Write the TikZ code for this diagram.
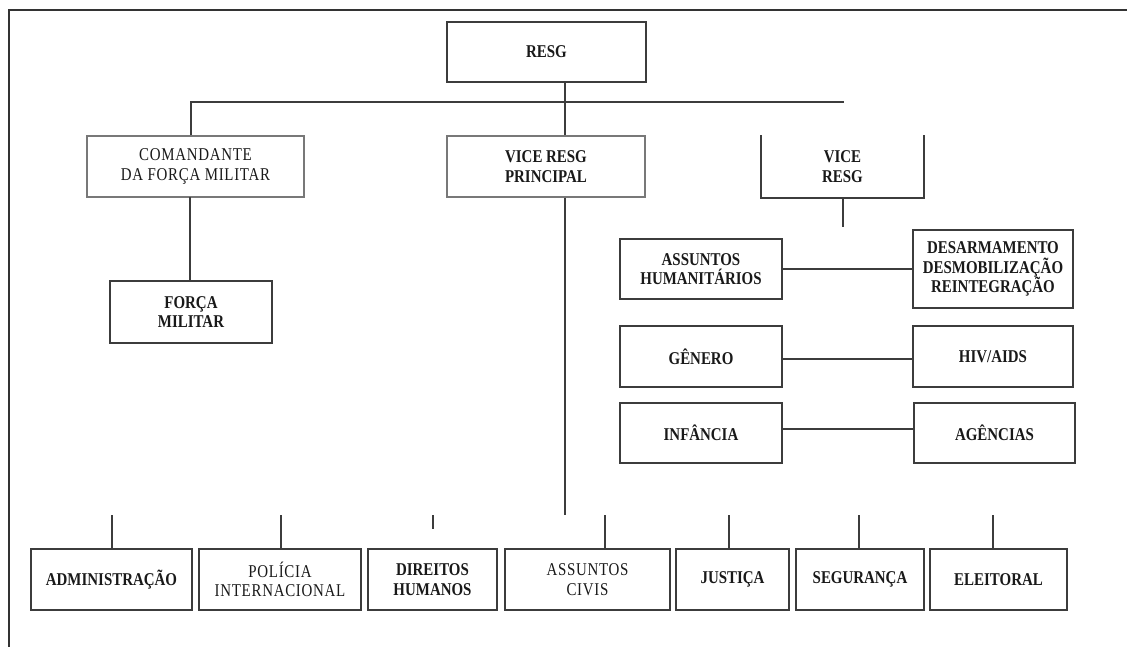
\documentclass[tikz,border=0pt]{standalone}
\usepackage{fontspec}
\setmainfont{Liberation Serif}[FakeStretch=0.83]
\usepackage{tikz}
\usetikzlibrary{positioning, calc}
\definecolor{Cln}{RGB}{60,60,60}
\definecolor{Clt}{RGB}{120,120,120}
\definecolor{Ctx}{RGB}{25,25,25}
\tikzset{
  bx/.style n args={2}{draw=Cln, line width=1.7pt, fill=white,
    minimum width=#1, minimum height=#2, inner sep=1pt,
    align=center, text=Ctx, font=\fontsize{18}{19.5}\selectfont\bfseries},
  bl/.style n args={2}{bx={#1}{#2}, draw=Clt, line width=1.2pt},
  rg/.style={font=\fontsize{18}{19.5}\selectfont\addfontfeature{LetterSpace=4}},
  ln/.style={draw=Cln, line width=1.5pt},
  frm/.style={draw=black!80, line width=1.5pt}
}
\begin{document}
\begin{tikzpicture}[x=1pt, y=-1pt]
\useasboundingbox (0,0) rectangle (1127,646);
\clip (0,0) rectangle (1127,646);
\draw[frm] (9,10) rectangle (1160,680);

% top level
\node[bx={199pt}{60pt}] (resg) at (546.5,52) {RESG};

\node[bl={217pt}{61pt}, rg] (cmd) at (195.5,166.5)
  {COMANDANTE\\DA FORÇA MILITAR};
\node[bl={198pt}{61pt}] (vpr) at (546,166.5) {VICE RESG\\PRINCIPAL};
\node[bx={161pt}{61pt}, draw=none] (vr) at (842.5,166.5) {VICE\\RESG};
\draw[ln] (vr.north west) -- (vr.south west) -- (vr.south east) -- (vr.north east);

\node[bx={162pt}{62pt}] (fm) at (191,312) {FORÇA\\MILITAR};

% right column
\node[bx={162pt}{60pt}] (hum) at (701,269) {ASSUNTOS\\HUMANITÁRIOS};
\node[bx={160pt}{78pt}] (ddr) at (993,269)
  {DESARMAMENTO\\DESMOBILIZAÇÃO\\REINTEGRAÇÃO};
\node[bx={162pt}{61pt}] (gen) at (701,356.5) {GÊNERO};
\node[bx={160pt}{61pt}] (hiv) at (993,356.5) {HIV/AIDS};
\node[bx={162pt}{60pt}] (inf) at (701,433) {INFÂNCIA};
\node[bx={161pt}{60pt}] (age) at (994.5,433) {AGÊNCIAS};

% bottom row
\node[bx={161pt}{61pt}] (adm) at (111.5,579.5) {ADMINISTRAÇÃO};
\node[bx={162pt}{61pt}, rg] (pol) at (280,579.5) {POLÍCIA\\INTERNACIONAL};
\node[bx={129pt}{61pt}] (dir) at (432.5,579.5) {DIREITOS\\HUMANOS};
\node[bx={165pt}{61pt}, rg] (civ) at (587.5,579.5) {ASSUNTOS\\CIVIS};
\node[bx={113pt}{61pt}] (jus) at (732.5,579.5) {JUSTIÇA};
\node[bx={128pt}{61pt}] (seg) at (860,579.5) {SEGURANÇA};
\node[bx={137pt}{61pt}] (ele) at (998.5,579.5) {ELEITORAL};

% bus lines
\coordinate (bus) at (565,102);
\coordinate (busL) at (191,102);
\coordinate (busR) at (844,102);
\coordinate (vend) at (565,515);
\coordinate (vrend) at (843,227);

\draw[ln] (bus |- resg.south) -- (bus |- vpr.north);
\draw[ln] (busL |- cmd.north) -- (busL) -- (busR);
\draw[ln] (190,197) -- (fm.north -| 190,0);
\draw[ln] (vend |- vpr.south) -- (vend);
\draw[ln] (vrend |- vr.south) -- (vrend);

\draw[ln] (hum.east) -- (hum.east -| ddr.west);
\draw[ln] (gen.east |- 0,359) -- (hiv.west |- 0,359);
\draw[ln] (inf.east |- 0,429) -- (age.west |- 0,429);

% stubs above bottom row
\foreach \nm/\xx in {adm/112, pol/281, civ/605, jus/729, seg/859, ele/993}{
  \coordinate (t\nm) at (\xx,515);
  \draw[ln] (t\nm) -- (t\nm |- \nm.north);
}
\coordinate (tdir) at (433,515);
\draw[ln] (tdir) -- ($(tdir)+(0,14)$);

\end{tikzpicture}
\end{document}
